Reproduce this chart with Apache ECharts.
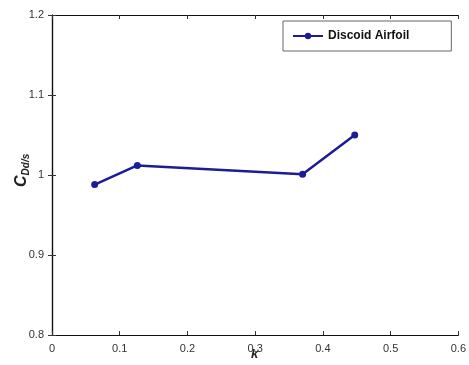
<!DOCTYPE html>
<html>
<head>
<meta charset="utf-8">
<script src="https://cdn.jsdelivr.net/npm/echarts@6/dist/echarts.min.js"></script>
<style>
	html,body{margin:0;padding:0;background:#fff;}
	#chart{width:469px;height:365px;}
</style>
</head>
<body>
<div id="chart"></div>
<script>
	var kValues = [0.063, 0.126, 0.37, 0.447];
	var cdValues = [0.988, 1.012, 1.001, 1.050];
	var seriesName = 'Discoid Airfoil';

	var pts = [];
	for(var i=0;i<kValues.length;i++){
		pts.push([kValues[i], cdValues[i]]);
	}

	var labelStyle = {color:'#333', fontFamily:'Liberation Sans, Arial', fontSize:11, margin:8};
	var axLine = {show:true, lineStyle:{color:'#111', width:1.2}};
	var tick = {inside:true, length:4, lineStyle:{color:'#333'}};

	var option = {
		animation:false,
		backgroundColor:'#fff',
		grid:{left:52, right:9, top:15, bottom:30},
		legend:{
			data:[seriesName],
			left:283, top:21,
			borderColor:'#666', borderWidth:1,
			padding:[9,42,9,9],
			itemWidth:30, itemHeight:8,
			textStyle:{color:'#111', fontFamily:'Liberation Sans, Arial', fontSize:12, fontWeight:'bold'}
		},
		xAxis:[{
			type:'value', min:0, max:0.6, interval:0.1,
			axisLine:axLine, axisTick:tick,
			axisLabel:labelStyle, splitLine:{show:false}
		},{
			type:'value', position:'top', min:0, max:0.6, interval:0.1,
			axisLine:axLine, axisTick:tick,
			axisLabel:{show:false}, splitLine:{show:false}
		}],
		yAxis:[{
			type:'value', min:0.8, max:1.2, interval:0.1,
			axisLine:axLine, axisTick:tick,
			axisLabel:labelStyle, splitLine:{show:false}
		},{
			type:'value', position:'right', min:0.8, max:1.2, interval:0.1,
			axisLine:axLine, axisTick:tick,
			axisLabel:{show:false}, splitLine:{show:false}
		}],
		graphic:[{
			type:'text', left:251, top:348,
			style:{text:'k', font:'italic bold 13px Liberation Sans', fill:'#222'}
		},{
			type:'text', x:13, y:187, rotation:Math.PI/2,
			style:{
				text:'{c|C}{s|Dd/s}',
				rich:{
					c:{font:'italic bold 16px Liberation Sans', fill:'#222'},
					s:{font:'italic bold 10px Liberation Sans', fill:'#222', padding:[8,0,0,0]}
				}
			}
		}],
		series:[{
			name:seriesName,
			type:'line',
			data:pts,
			symbol:'circle', symbolSize:7,
			lineStyle:{color:'#1c1c96', width:2.5},
			itemStyle:{color:'#1c1c96'}
		}]
	};

	var chart = echarts.init(document.getElementById('chart'));
	chart.setOption(option);
</script>
</body>
</html>
